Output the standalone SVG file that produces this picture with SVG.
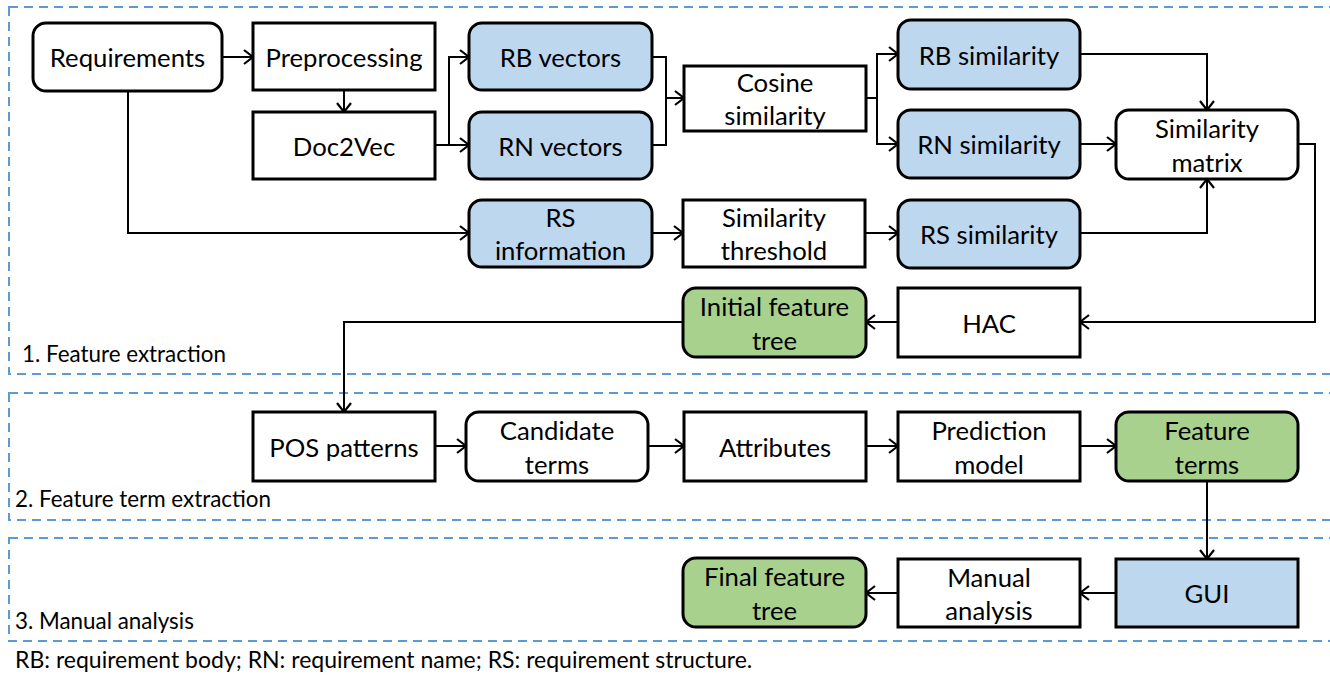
<svg xmlns="http://www.w3.org/2000/svg" width="1330" height="677" viewBox="0 0 1330 677">
<defs>
<marker id="arr" markerUnits="userSpaceOnUse" markerWidth="14" markerHeight="16" viewBox="0 0 14 16" refX="11" refY="8" orient="auto">
<path d="M2,1 L11,8 L2,15" fill="none" stroke="#000" stroke-width="2.2"/>
</marker>
<style>
.n{stroke:#000;stroke-width:3}
.w{fill:#fff}
.b{fill:#BDD7EE}
.g{fill:#A9D18E}
.t{font-family:Lato,"Open Sans",sans-serif;font-size:25.7px;fill:#000;text-anchor:middle;dominant-baseline:central}
.s{font-family:Lato,"Open Sans",sans-serif;font-size:22.4px;fill:#000}
.f{font-family:Lato,"Open Sans",sans-serif;font-size:23px;fill:#000}
.c{fill:none;stroke:#000;stroke-width:2}
.a{marker-end:url(#arr)}
.d{fill:none;stroke:#5B9BD5;stroke-width:2;stroke-dasharray:9,6}
</style>
</defs>
<rect fill="#fff" width="1330" height="677"/>
<g id="sections">
<rect class="d" x="9" y="7" width="1340" height="367"/>
<rect class="d" x="9" y="393" width="1340" height="127"/>
<rect class="d" x="9" y="538" width="1340" height="103"/>
<text class="s" x="22" y="362">1. Feature extraction</text>
<text class="s" x="15" y="507">2. Feature term extraction</text>
<text class="s" x="15" y="629">3. Manual analysis</text>
</g>
<g id="connectors">
<path class="c a" d="M222,57 H253"/>
<path class="c a" d="M344,90 V112"/>
<path class="c a" d="M435,145 H449 V57 H469"/>
<path class="c a" d="M449,145 H469"/>
<path class="c a" d="M128,91 V233 H469"/>
<path class="c" d="M652,57 H666 V145 H652"/>
<path class="c a" d="M666,98 H684"/>
<path class="c" d="M866,98 H877"/>
<path class="c a" d="M877,144 V54 H898"/>
<path class="c a" d="M877,98 V144 H898"/>
<path class="c a" d="M652,233 H683"/>
<path class="c a" d="M865,233 H898"/>
<path class="c a" d="M1080,54 H1207 V110"/>
<path class="c a" d="M1080,144 H1116"/>
<path class="c a" d="M1080,233 H1207 V179"/>
<path class="c a" d="M1298,144 H1315 V322 H1080"/>
<path class="c a" d="M898,322 H866"/>
<path class="c a" d="M683,322 H344 V412"/>
<path class="c a" d="M435,446 H466"/>
<path class="c a" d="M648,446 H684"/>
<path class="c a" d="M866,446 H898"/>
<path class="c a" d="M1080,446 H1116"/>
<path class="c a" d="M1207,481 V559"/>
<path class="c a" d="M1116,593 H1080"/>
<path class="c a" d="M898,593 H866"/>
</g>
<g id="requirements"><rect class="n w" x="33" y="23" width="189" height="68" rx="13"/><text class="t" x="127.5" y="57">Requirements</text></g>
<g id="preprocessing"><rect class="n w" x="253" y="23" width="182" height="67"/><text class="t" x="344" y="57">Preprocessing</text></g>
<g id="doc2vec"><rect class="n w" x="253" y="112" width="182" height="67"/><text class="t" x="344" y="145.5">Doc2Vec</text></g>
<g id="rb-vectors"><rect class="n b" x="469" y="23" width="183" height="67" rx="13"/><text class="t" x="560.5" y="57">RB vectors</text></g>
<g id="rn-vectors"><rect class="n b" x="469" y="112" width="183" height="67" rx="13"/><text class="t" x="560.5" y="145.5">RN vectors</text></g>
<g id="rs-information"><rect class="n b" x="469" y="200" width="183" height="67" rx="13"/><text class="t" x="560.5" y="217">RS</text><text class="t" x="560.5" y="250">information</text></g>
<g id="cosine-similarity"><rect class="n w" x="684" y="66" width="182" height="65"/><text class="t" x="775" y="82">Cosine</text><text class="t" x="775" y="115">similarity</text></g>
<g id="similarity-threshold"><rect class="n w" x="683" y="200" width="182" height="67"/><text class="t" x="774" y="217">Similarity</text><text class="t" x="774" y="250">threshold</text></g>
<g id="rb-similarity"><rect class="n b" x="898" y="20" width="182" height="69" rx="13"/><text class="t" x="989" y="54.5">RB similarity</text></g>
<g id="rn-similarity"><rect class="n b" x="898" y="110" width="182" height="68" rx="13"/><text class="t" x="989" y="144">RN similarity</text></g>
<g id="rs-similarity"><rect class="n b" x="898" y="200" width="182" height="68" rx="13"/><text class="t" x="989" y="234">RS similarity</text></g>
<g id="similarity-matrix"><rect class="n w" x="1116" y="110" width="182" height="69" rx="13"/><text class="t" x="1207" y="128">Similarity</text><text class="t" x="1207" y="162">matrix</text></g>
<g id="hac"><rect class="n w" x="898" y="288" width="182" height="69"/><text class="t" x="989" y="322.5">HAC</text></g>
<g id="initial-feature-tree"><rect class="n g" x="683" y="288" width="183" height="69" rx="13"/><text class="t" x="774.5" y="306">Initial feature</text><text class="t" x="774.5" y="340">tree</text></g>
<g id="pos-patterns"><rect class="n w" x="253" y="412" width="182" height="69"/><text class="t" x="344" y="446.5">POS patterns</text></g>
<g id="candidate-terms"><rect class="n w" x="466" y="412" width="182" height="69" rx="13"/><text class="t" x="557" y="430">Candidate</text><text class="t" x="557" y="464">terms</text></g>
<g id="attributes"><rect class="n w" x="684" y="412" width="182" height="69"/><text class="t" x="775" y="447">Attributes</text></g>
<g id="prediction-model"><rect class="n w" x="898" y="412" width="182" height="69"/><text class="t" x="989" y="430">Prediction</text><text class="t" x="989" y="464">model</text></g>
<g id="feature-terms"><rect class="n g" x="1116" y="412" width="182" height="69" rx="13"/><text class="t" x="1207" y="430">Feature</text><text class="t" x="1207" y="464">terms</text></g>
<g id="gui"><rect class="n b" x="1116" y="559" width="182" height="68"/><text class="t" x="1207" y="593">GUI</text></g>
<g id="manual-analysis"><rect class="n w" x="898" y="559" width="182" height="68"/><text class="t" x="989" y="577">Manual</text><text class="t" x="989" y="610">analysis</text></g>
<g id="final-feature-tree"><rect class="n g" x="683" y="558" width="183" height="69" rx="13"/><text class="t" x="774.5" y="576">Final feature</text><text class="t" x="774.5" y="610">tree</text></g>
<text class="f" x="15" y="668">RB: requirement body; RN: requirement name; RS: requirement structure.</text>
</svg>
